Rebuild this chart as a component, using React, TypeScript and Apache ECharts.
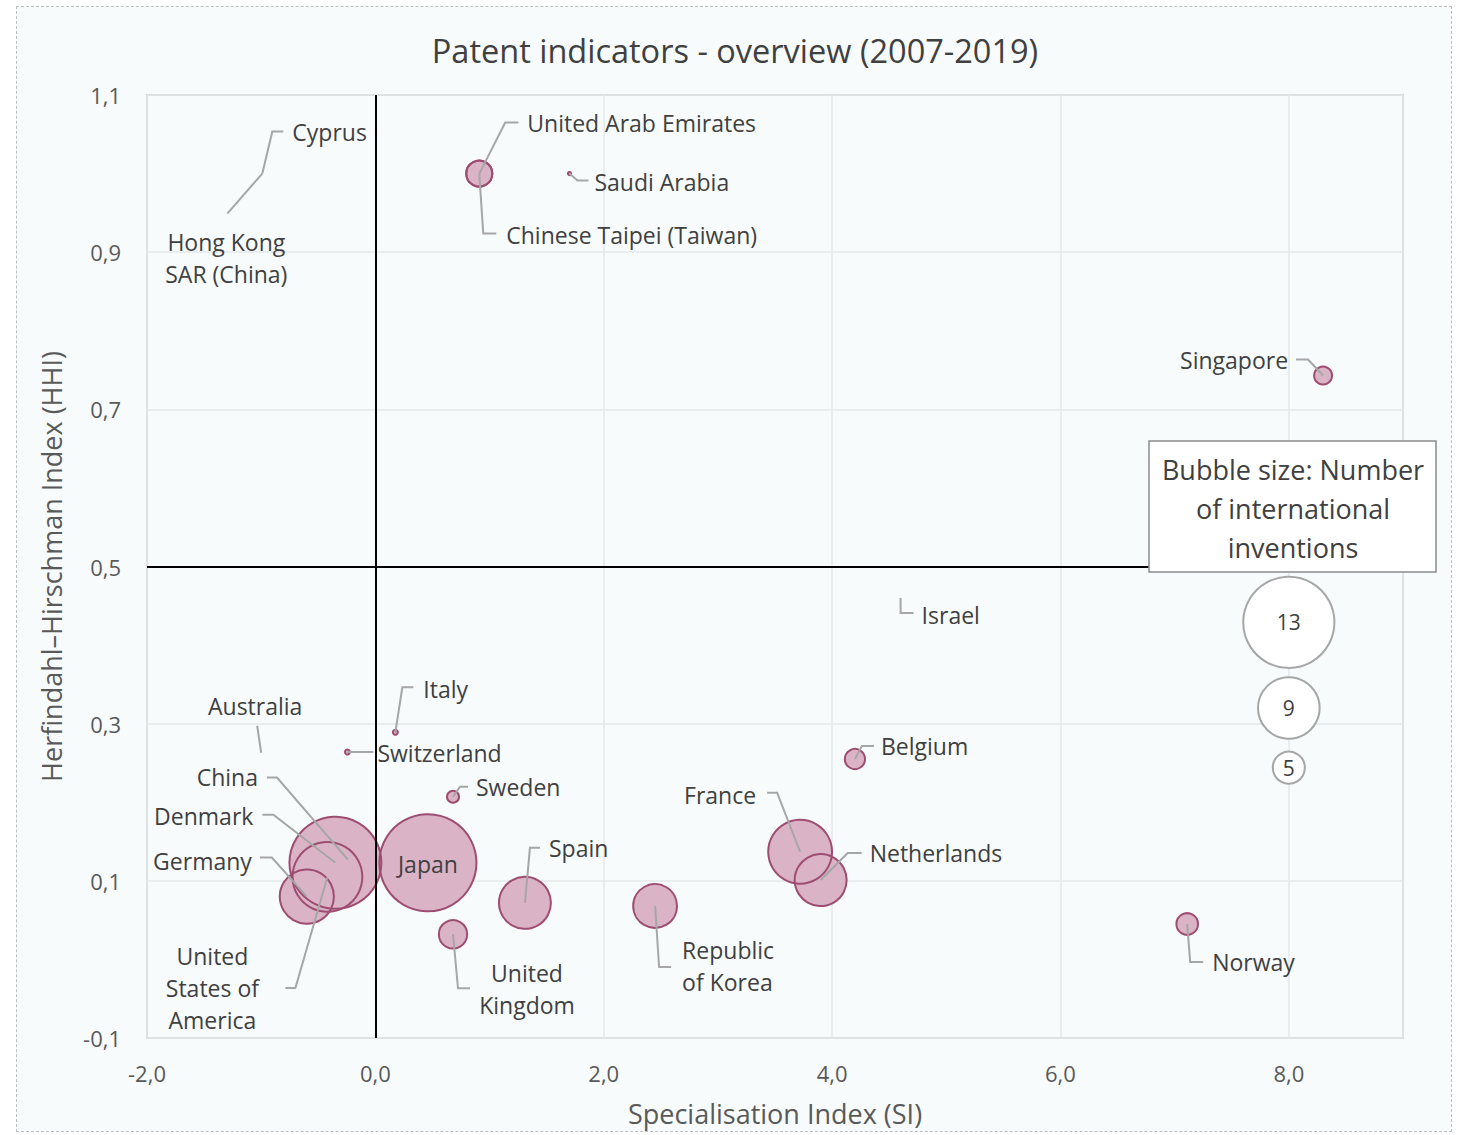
import React, { useEffect, useRef } from "react";
import * as echarts from "echarts";

const FONT = '"Open Sans", "Noto Sans", sans-serif';

// ---- data ----
const countries = [
  "Cyprus", "Hong Kong\nSAR (China)", "United Arab Emirates", "Chinese Taipei (Taiwan)", "Saudi Arabia",
  "Singapore", "Israel", "Italy", "Switzerland", "Australia",
  "China", "Denmark", "Germany", "United\nStates of\nAmerica", "Japan",
  "Sweden", "Spain", "United\nKingdom", "Republic\nof Korea", "France",
  "Netherlands", "Belgium", "Norway",
];
const siValues = [
  -0.99, -0.99, 0.91, 0.91, 1.70,
  8.30, 4.60, 0.175, -0.245, -1.0,
  -0.24, -0.35, -0.60, -0.42, 0.46,
  0.68, 1.31, 0.68, 2.45, 3.72,
  3.90, 4.20, 7.11,
];
const hhiValues = [
  1.0, 1.0, 1.0, 1.0, 1.0,
  0.743, 0.46, 0.289, 0.264, 0.263,
  0.127, 0.123, 0.080, 0.105, 0.123,
  0.207, 0.072, 0.032, 0.068, 0.137,
  0.101, 0.255, 0.045,
];
const inventions = [
  0, 0, 4.2, 4.2, 1.1,
  3.1, 0, 1.35, 1.35, 0,
  0, 13.1, 8.0, 10.1, 13.8,
  2.3, 7.7, 4.5, 6.6, 9.3,
  7.7, 3.4, 3.6,
];
const legendSizes = [13, 9, 5];
const legendSI = [8, 8, 8];
const legendHHI = [0.429, 0.32, 0.244];
const legendText = "Bubble size: Number\nof international\ninventions";

// ---- label layout (pixel offsets from the bubble centre) ----
type Lay = { tx: number; ty: number; align: string; leader: number[][] };
const labelLayout: Lay[] = [
  { tx: 30, ty: -42, align: "left", leader: [[0, 0], [10, -42], [21, -42]] },
  { tx: -36, ty: 84, align: "center", leader: [[0, 0], [-35, 40]] },
  { tx: 48, ty: -51, align: "left", leader: [[0, 0], [26, -51], [39, -51]] },
  { tx: 27, ty: 61, align: "left", leader: [[0, 0], [4, 60], [17, 60]] },
  { tx: 25, ty: 8, align: "left", leader: [[0, 0], [8, 7], [19, 7]] },
  { tx: -35, ty: -16, align: "right", leader: [[0, 0], [-15, -16], [-27, -16]] },
  { tx: 21, ty: 17, align: "left", leader: [[0, 0], [0, 15], [13, 15]] },
  { tx: 28, ty: -43, align: "left", leader: [[0, 0], [7, -45], [18, -45]] },
  { tx: 30, ty: 1, align: "left", leader: [[0, 0], [26, 0]] },
  { tx: -6, ty: -47, align: "center", leader: [[0, 0], [-4, -27]] },
  { tx: -90, ty: -83, align: "right", leader: [[0, 0], [-71, -82], [-81, -82]] },
  { tx: -82, ty: -47, align: "right", leader: [[0, 0], [-62, -48], [-73, -48]] },
  { tx: -55, ty: -36, align: "right", leader: [[0, 0], [-35, -39], [-47, -39]] },
  { tx: -115, ty: 111, align: "center", leader: [[0, 0], [-32, 111], [-42, 111]] },
  { tx: 0, ty: 1, align: "center", leader: [] },
  { tx: 23, ty: -10, align: "left", leader: [[0, 0], [7, -10], [15, -10]] },
  { tx: 24, ty: -55, align: "left", leader: [[0, 0], [5, -55], [15, -55]] },
  { tx: 74, ty: 55, align: "center", leader: [[0, 0], [5, 54], [17, 54]] },
  { tx: 27, ty: 60, align: "left", leader: [[0, 0], [4, 61], [16, 61]] },
  { tx: -44, ty: -57, align: "right", leader: [[0, 0], [-23, -59], [-33, -59]] },
  { tx: 49, ty: -27, align: "left", leader: [[0, 0], [27, -27], [41, -27]] },
  { tx: 26, ty: -13, align: "left", leader: [[0, 0], [7, -13], [19, -13]] },
  { tx: 25, ty: 38, align: "left", leader: [[0, 0], [3, 38], [16, 38]] },
];

const sizeOf = (v: number) => (v <= 0 ? 0 : Math.max(3, 7.4 * v - 5));
const fmt = (v: number) => v.toFixed(1).replace(".", ",");

export default function App() {
  const ref = useRef<HTMLDivElement>(null);
  useEffect(() => {
    if (!ref.current) return;
    const chart = echarts.init(ref.current, undefined, { renderer: "svg" });
    const pts = countries.map((c, i) => [siValues[i], hhiValues[i], inventions[i]]);
    const legendPts = legendSizes.map((s, i) => [legendSI[i], legendHHI[i], s]);
    chart.setOption({
      animation: false,
      backgroundColor: "transparent",
      textStyle: { fontFamily: FONT },
      grid: {
        left: 147, top: 95, right: 55, bottom: 97,
        show: true, borderColor: "#c9cdd0", borderWidth: 2, backgroundColor: "transparent",
      },
      xAxis: {
        type: "value", min: -2, max: 9, interval: 2,
        name: "Specialisation Index (SI)", nameLocation: "middle", nameGap: 62,
        nameTextStyle: { fontSize: 27, color: "#595959", fontFamily: FONT },
        axisLine: { show: false }, axisTick: { show: false },
        axisLabel: {
          fontSize: 22, color: "#595959", margin: 24, fontFamily: FONT,
          formatter: (v: number) => (v > 8.5 ? "" : fmt(v)),
        },
        splitLine: { show: true, lineStyle: { color: "#e3e9ec", width: 1.5 } },
      },
      yAxis: {
        type: "value", min: -0.1, max: 1.1, interval: 0.2,
        name: "Herfindahl\u2013Hirschman Index (HHI)", nameLocation: "middle", nameGap: 82,
        nameTextStyle: { fontSize: 27, color: "#595959", fontFamily: FONT },
        axisLine: { show: false }, axisTick: { show: false },
        axisLabel: {
          fontSize: 22, color: "#595959", margin: 26, fontFamily: FONT,
          formatter: (v: number) => fmt(v),
        },
        splitLine: { show: true, lineStyle: { color: "#e3e9ec", width: 1.5 } },
      },
      series: [
        {
          type: "scatter", z: 2, silent: true,
          data: pts,
          symbolSize: (val: number[]) => sizeOf(val[2]),
          itemStyle: { color: "#dbb3c7", borderWidth: 0, opacity: 1 },
        },
        {
          type: "scatter", z: 3, silent: true,
          data: pts,
          symbolSize: (val: number[]) => sizeOf(val[2]),
          itemStyle: { color: "rgba(0,0,0,0)", borderColor: "#9e4d72", borderWidth: 2, opacity: 1 },
          markLine: {
            silent: true, symbol: ["none", "none"], label: { show: false },
            lineStyle: { color: "#000", width: 2, type: "solid" },
            data: [{ xAxis: 0 }, { yAxis: 0.5 }],
          },
        },
        {
          type: "scatter", z: 3, silent: true,
          data: legendPts,
          symbolSize: (val: number[]) => sizeOf(val[2]),
          itemStyle: { color: "#ffffff", borderColor: "#a6a6a6", borderWidth: 2, opacity: 1 },
          label: {
            show: true, position: "inside", fontSize: 21, color: "#404040", fontFamily: FONT,
            formatter: (p: any) => String(p.value[2]),
          },
        },
        {
          type: "custom", z: 6, silent: true, clip: false,
          data: pts,
          encode: { x: 0, y: 1 },
          renderItem: (params: any, api: any) => {
            const i = params.dataIndex;
            const p = api.coord([api.value(0), api.value(1)]);
            const L = labelLayout[i];
            const children: any[] = [];
            if (L.leader.length > 1) {
              children.push({
                type: "polyline",
                shape: { points: L.leader.map(([dx, dy]) => [p[0] + dx, p[1] + dy]) },
                style: { stroke: "#a6a6a6", lineWidth: 2, fill: null },
              });
            }
            children.push({
              type: "text",
              x: p[0] + L.tx, y: p[1] + L.ty,
              style: {
                text: countries[i], fill: "#404040", fontSize: 23, fontFamily: FONT,
                align: L.align, verticalAlign: "middle", lineHeight: 32,
              },
            });
            return { type: "group", children };
          },
        },
      ],
      graphic: [
        {
          type: "text", x: 735, y: 50, z: 10,
          style: {
            text: "Patent indicators - overview (2007-2019)", fill: "#404040",
            fontSize: 32.5, fontFamily: FONT, align: "center", verticalAlign: "middle",
          },
        },
        {
          type: "group", z: 100,
          children: [
            {
              type: "rect", z: 100,
              shape: { x: 1149, y: 441, width: 287, height: 131 },
              style: { fill: "#ffffff", stroke: "#8c8c8c", lineWidth: 1.5 },
            },
            {
              type: "text", z: 101, x: 1293, y: 508,
              style: {
                text: legendText, fill: "#404040", fontSize: 27, fontFamily: FONT,
                align: "center", verticalAlign: "middle", lineHeight: 39,
              },
            },
          ],
        },
      ],
    });
    return () => chart.dispose();
  }, []);
  return (
    <div style={{ position: "fixed", left: 0, top: 0, width: 1458, height: 1135, background: "#ffffff" }}>
      <div
        style={{
          position: "absolute", left: 16, top: 6, width: 1436, height: 1126,
          border: "1.5px dashed #bfbfbf", background: "#f7fbfc", boxSizing: "border-box",
        }}
      />
      <div ref={ref} style={{ position: "absolute", left: 0, top: 0, width: 1458, height: 1135 }} />
    </div>
  );
}
